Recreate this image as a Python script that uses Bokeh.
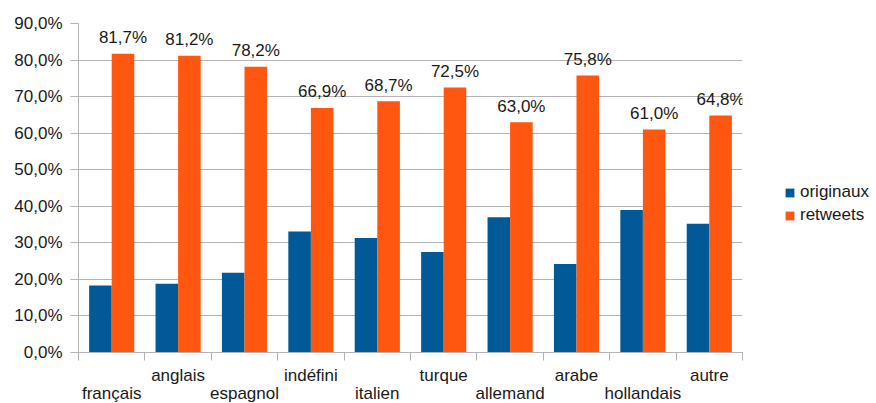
from bokeh.plotting import figure
from bokeh.models import ColumnDataSource, FixedTicker, Legend, LegendItem, Range1d, LinearAxis
from bokeh.core.properties import value
from bokeh.embed import file_html
from bokeh.resources import INLINE

categories = ["français", "anglais", "espagnol", "indéfini", "italien",
              "turque", "allemand", "arabe", "hollandais", "autre"]
originaux = [18.3, 18.8, 21.8, 33.1, 31.3, 27.5, 37.0, 24.2, 39.0, 35.2]
retweets = [81.7, 81.2, 78.2, 66.9, 68.7, 72.5, 63.0, 75.8, 61.0, 64.8]
y_ticks = [0, 10, 20, 30, 40, 50, 60, 70, 80, 90]
y_tick_labels = ["0,0%", "10,0%", "20,0%", "30,0%", "40,0%", "50,0%",
                 "60,0%", "70,0%", "80,0%", "90,0%"]

FONT = "Liberation Sans"
BLUE = "#005a98"
ORANGE = "#ff5610"
GRID = "#b3b3b3"
TXT = "#1a1a1a"

n = len(categories)
centers = [i + 0.5 for i in range(n)]
src = ColumnDataSource(dict(
    xb=[c - 0.17 for c in centers],
    xo=[c + 0.17 for c in centers],
    orig=originaux,
    rt=retweets,
    lab=[f"{v:.1f}%".replace(".", ",") for v in retweets],
))

p = figure(frame_width=664, frame_height=329, x_range=Range1d(0, n), y_range=Range1d(0, 90),
           output_backend="svg", toolbar_location=None,
           min_border_left=78, min_border_top=23, min_border_right=126,
           min_border_bottom=0)
p.outline_line_color = None
p.background_fill_color = "white"

r1 = p.vbar(x="xb", top="orig", width=0.34, source=src, fill_color=BLUE, line_color=None)
r2 = p.vbar(x="xo", top="rt", width=0.34, source=src, fill_color=ORANGE, line_color=None)
p.text(x="xo", y="rt", text="lab", source=src, text_align="center",
       text_baseline="alphabetic", y_offset=-16, text_font=value(FONT),
       text_font_size="17px", text_color=TXT)

p.xgrid.grid_line_color = None
p.ygrid.grid_line_color = GRID
p.ygrid.ticker = FixedTicker(ticks=y_ticks)

ya = p.yaxis[0]
ya.ticker = FixedTicker(ticks=y_ticks)
ya.major_label_overrides = {t: l for t, l in zip(y_ticks, y_tick_labels)}
ya.axis_line_color = GRID
ya.major_tick_line_color = GRID
ya.major_tick_out = 8
ya.major_tick_in = 0
ya.minor_tick_line_color = None
ya.major_label_standoff = 8
ya.major_label_text_font = FONT
ya.major_label_text_font_size = "17px"
ya.major_label_text_color = TXT

odd = [centers[i] for i in range(n) if i % 2 == 1]
even = [centers[i] for i in range(n) if i % 2 == 0]
names = {c: name for c, name in zip(centers, categories)}

xa = p.xaxis[0]
xa.ticker = FixedTicker(ticks=odd, minor_ticks=list(range(n + 1)))
xa.major_label_overrides = {c: names[c] for c in odd}
xa.axis_line_color = GRID
xa.major_tick_line_color = None
xa.major_tick_out = 0
xa.major_tick_in = 0
xa.minor_tick_line_color = GRID
xa.minor_tick_out = 8
xa.minor_tick_in = 0
xa.major_label_standoff = 5
xa.major_label_text_font = FONT
xa.major_label_text_font_size = "17px"
xa.major_label_text_color = TXT

xb = LinearAxis(ticker=FixedTicker(ticks=even))
xb.major_label_overrides = {c: names[c] for c in even}
xb.axis_line_color = None
xb.major_tick_line_color = None
xb.minor_tick_line_color = None
xb.major_tick_out = 0
xb.major_tick_in = 0
xb.major_label_standoff = -4
xb.major_label_text_font = FONT
xb.major_label_text_font_size = "17px"
xb.major_label_text_color = TXT
p.add_layout(xb, "below")

legend = Legend(items=[LegendItem(label="originaux", renderers=[r1]),
                       LegendItem(label="retweets", renderers=[r2])],
                location=(42, 127), border_line_color=None,
                background_fill_alpha=0, glyph_width=11, glyph_height=11,
                label_standoff=5, spacing=3, padding=0, margin=0,
                label_text_font=FONT, label_text_font_size="17px",
                label_text_color=TXT)
p.add_layout(legend, "right")

open("out.html", "w").write(file_html(p, INLINE))
